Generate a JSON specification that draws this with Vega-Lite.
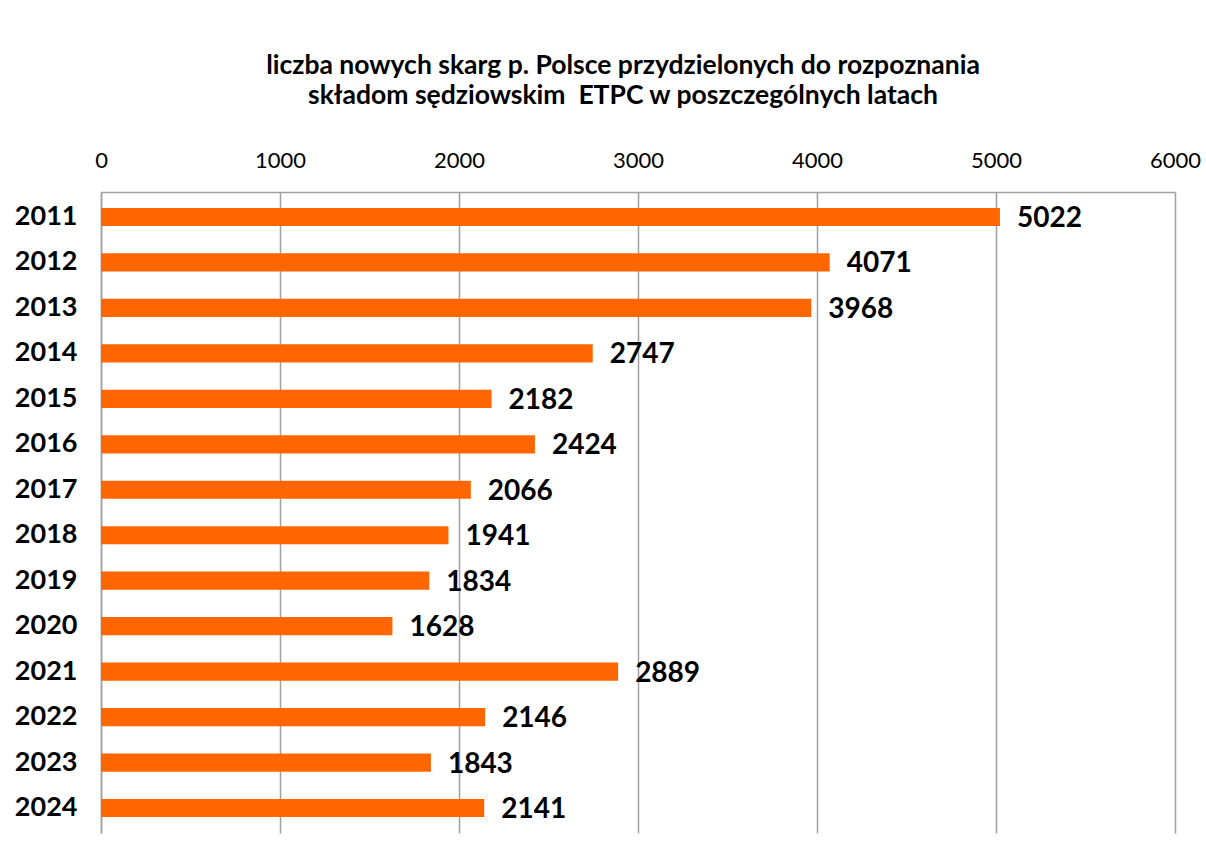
{
  "$schema": "https://vega.github.io/schema/vega-lite/v6.json",
  "width": 1074,
  "height": 641,
  "autosize": {"type": "none"},
  "padding": {"left": 101, "top": 192, "right": 31, "bottom": 19},
  "background": "white",
  "config": {
    "font": "Lato",
    "view": {"stroke": null},
    "axis": {"domainColor": "#a0a0a0", "gridColor": "#a0a0a0", "labelColor": "#000000", "labelFont": "Lato"}
  },
  "title": {
    "text": ["liczba nowych skarg p. Polsce przydzielonych do rozpoznania", "składom sędziowskim\u00a0 ETPC w poszczególnych latach"],
    "font": "Lato",
    "fontSize": 26.5,
    "fontWeight": "bold",
    "color": "#000000",
    "anchor": "middle",
    "dx": -15,
    "lineHeight": 30,
    "offset": 40
  },
  "data": {
    "values": [
      {"year": "2011", "count": 5022},
      {"year": "2012", "count": 4071},
      {"year": "2013", "count": 3968},
      {"year": "2014", "count": 2747},
      {"year": "2015", "count": 2182},
      {"year": "2016", "count": 2424},
      {"year": "2017", "count": 2066},
      {"year": "2018", "count": 1941},
      {"year": "2019", "count": 1834},
      {"year": "2020", "count": 1628},
      {"year": "2021", "count": 2889},
      {"year": "2022", "count": 2146},
      {"year": "2023", "count": 1843},
      {"year": "2024", "count": 2141}
    ]
  },
  "encoding": {
    "y": {
      "field": "year",
      "type": "nominal",
      "sort": null,
      "scale": {"paddingInner": 0.6, "paddingOuter": 0.35},
      "axis": {"title": null, "ticks": false, "labelPadding": 24, "labelFontSize": 27, "labelFontWeight": "bold", "domainWidth": 1.5}
    },
    "x": {
      "field": "count",
      "type": "quantitative",
      "scale": {"domain": [0, 6000], "nice": false},
      "axis": {"orient": "top", "title": null, "ticks": false, "values": [0, 1000, 2000, 3000, 4000, 5000, 6000], "format": "d", "labelPadding": 20, "labelFontSize": 22, "grid": true, "gridWidth": 1.5, "domainWidth": 1.5, "labelFlush": false}
    }
  },
  "layer": [
    {"mark": {"type": "bar", "color": "#ff6600"}},
    {"mark": {"type": "text", "align": "left", "baseline": "middle", "dx": 17, "dy": 2, "fontSize": 28, "fontWeight": "bold", "color": "#000000"},
     "encoding": {"text": {"field": "count", "type": "quantitative", "format": "d"}}}
  ]
}
